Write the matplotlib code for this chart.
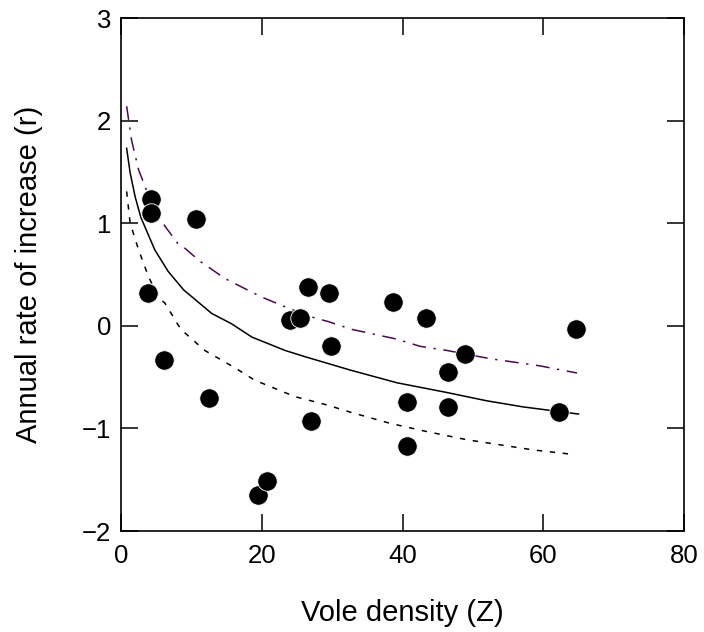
import matplotlib
matplotlib.use("Agg")
import matplotlib.pyplot as plt

plt.rcParams['font.family'] = ['Liberation Sans', 'DejaVu Sans']

# observed points (vole density, annual rate of increase)
obs_x = [3.8, 4.3, 4.3, 6.1, 10.6, 12.5, 19.4, 20.8, 24.0, 25.4, 26.5, 27.0,
         29.6, 29.9, 38.7, 40.7, 40.7, 43.3, 46.4, 46.4, 48.9, 62.3, 64.6]
obs_y = [0.32, 1.24, 1.10, -0.33, 1.04, -0.70, -1.65, -1.51, 0.06, 0.08, 0.375, -0.93,
         0.32, -0.20, 0.235, -0.74, -1.17, 0.08, -0.45, -0.79, -0.27, -0.84, -0.03]

# fitted curve (solid)
fit_x = [0.8, 1.3, 2.0, 2.8, 4.8, 6.7, 8.9, 12.9, 15.7, 18.6, 23.3, 26.1, 32.5,
         39.2, 46.3, 51.9, 57.1, 65.0]
fit_y = [1.73, 1.49, 1.26, 1.06, 0.74, 0.53, 0.35, 0.12, 0.02, -0.11, -0.24, -0.30,
         -0.43, -0.555, -0.65, -0.73, -0.79, -0.86]

# upper curve (dash-dot)
up_x = [0.8, 1.5, 2.5, 4.35, 6.25, 8.1, 9.1, 11.2, 14.8, 16.8, 20.0, 22.8, 26.6,
        29.5, 32.8, 39.2, 42.5, 46.3, 52.4, 59.5, 64.8]
up_y = [2.14, 1.81, 1.52, 1.19, 0.97, 0.80, 0.755, 0.63, 0.46, 0.39, 0.28, 0.20, 0.095,
        0.04, -0.035, -0.13, -0.20, -0.24, -0.32, -0.39, -0.46]

# lower curve (dotted)
low_x = [0.8, 1.3, 2.5, 3.9, 5.3, 6.25, 8.1, 8.6, 11.9, 16.2, 19.0, 24.7, 29.2,
         32.5, 38.2, 43.4, 49.1, 58.6, 63.8]
low_y = [1.31, 1.00, 0.74, 0.48, 0.28, 0.22, 0.01, -0.04, -0.24, -0.41, -0.53, -0.69,
         -0.77, -0.84, -0.95, -1.03, -1.11, -1.21, -1.25]

fig = plt.figure(figsize=(7.04, 6.32), dpi=100)
ax = fig.add_axes([0.1719, 0.1598, 0.7997, 0.8117])

ax.plot(up_x, up_y, color='#4b0a50', lw=1.1, dashes=[9, 5, 1.5, 5])
ax.plot(fit_x, fit_y, color='black', lw=1.1)
ax.plot(low_x, low_y, color='black', lw=1.1, dashes=[3.5, 5])
ax.plot(obs_x, obs_y, 'o', color='black', markersize=14, markeredgecolor='white',
        markeredgewidth=0.6)

ax.set_xlim(0, 80)
ax.set_ylim(-2, 3)
ax.set_xticks([0, 20, 40, 60, 80])
ax.set_yticks([-2, -1, 0, 1, 2, 3])
ax.tick_params(direction='in', length=12, width=1.1, top=True, right=True,
               labelsize=18.5, pad=7)
ax.tick_params(axis='x', pad=9)
for s in ax.spines.values():
    s.set_linewidth(1.2)

ax.set_xlabel('Vole density (Z)', fontsize=21, labelpad=23)
ax.set_ylabel('Annual rate of increase (r)', fontsize=21, labelpad=28)

fig.savefig('out.png', dpi=100)
